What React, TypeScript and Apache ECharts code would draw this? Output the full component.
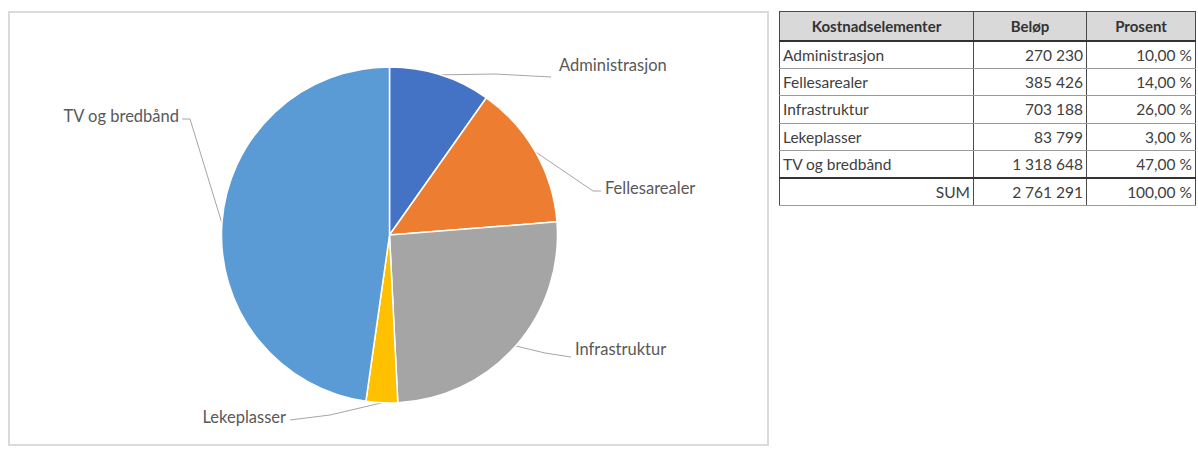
import React, { useEffect, useRef } from "react";
import * as echarts from "echarts";

// ---- data ----
const categories = ["Administrasjon", "Fellesarealer", "Infrastruktur", "Lekeplasser", "TV og bredbånd"];
const amounts = [270230, 385426, 703188, 83799, 1318648];
const percents = [10, 14, 26, 3, 47];
const sumLabel = "SUM";
const sumAmount = 2761291;
const sumPercent = 100;
const tableHeaders = ["Kostnadselementer", "Beløp", "Prosent"];
const colors = ["#4472C4", "#ED7D31", "#A5A5A5", "#FFC000", "#5B9BD5"];

// ---- layout (positions / styles only) ----
const PIE_CX = 389.5;
const PIE_CY = 235;
const PIE_R = 168;
const labelPlacement = [
  { x: 559, y: 65, align: "left", bend: [495, 74], end: [551, 77] },
  { x: 605, y: 188, align: "left", bend: [593, 191], end: [601, 191] },
  { x: 575, y: 349, align: "left", bend: [545, 353], end: [571, 357] },
  { x: 286, y: 417, align: "right", bend: [330, 415], end: [290, 420] },
  { x: 179, y: 116, align: "right", bend: [190, 119], end: [182, 119] },
];

const fmtAmount = (v: number) => String(v).replace(/\B(?=(\d{3})+(?!\d))/g, " ");
const fmtPct = (v: number) => v.toFixed(2).replace(".", ",") + " %";

function midAngles(vals: number[]) {
  const total = vals.reduce((a, b) => a + b, 0);
  let acc = 0;
  return vals.map((v) => {
    const m = ((acc + v / 2) / total) * Math.PI * 2;
    acc += v;
    return m;
  });
}

const cellBase: React.CSSProperties = {
  padding: "0 3px",
  borderLeft: "1px solid #4a4a4a",
  borderRight: "1px solid #4a4a4a",
  borderBottom: "1px solid #9a9a9a",
  whiteSpace: "nowrap",
  overflow: "hidden",
};

function Table() {
  const font = "Lato, 'Open Sans', sans-serif";
  const rowH = 27.5;
  return (
    <table
      style={{
        position: "absolute",
        left: 779,
        top: 11,
        borderCollapse: "collapse",
        tableLayout: "fixed",
        fontFamily: font,
        fontSize: 15.5,
        color: "#404040",
        border: "1.5px solid #4a4a4a",
        background: "#fff",
      }}
    >
      <colgroup>
        <col style={{ width: 194 }} />
        <col style={{ width: 113 }} />
        <col style={{ width: 109 }} />
      </colgroup>
      <thead>
        <tr style={{ height: 29, background: "#d9d9d9" }}>
          {tableHeaders.map((h) => (
            <th
              key={h}
              style={{ ...cellBase, textAlign: "center", fontWeight: "bold", fontSize: 15, color: "#333", borderBottom: "2px solid #333" }}
            >
              {h}
            </th>
          ))}
        </tr>
      </thead>
      <tbody>
        {categories.map((c, i) => (
          <tr key={c} style={{ height: rowH }}>
            <td style={{ ...cellBase, textAlign: "left" }}>{c}</td>
            <td style={{ ...cellBase, textAlign: "right" }}>{fmtAmount(amounts[i])}</td>
            <td style={{ ...cellBase, textAlign: "right" }}>{fmtPct(percents[i])}</td>
          </tr>
        ))}
        <tr style={{ height: rowH }}>
          <td style={{ ...cellBase, textAlign: "right", borderTop: "2px solid #333" }}>{sumLabel}</td>
          <td style={{ ...cellBase, textAlign: "right", borderTop: "2px solid #333" }}>{fmtAmount(sumAmount)}</td>
          <td style={{ ...cellBase, textAlign: "right", borderTop: "2px solid #333" }}>{fmtPct(sumPercent)}</td>
        </tr>
      </tbody>
    </table>
  );
}

export default function App() {
  const ref = useRef<HTMLDivElement>(null);

  useEffect(() => {
    if (!ref.current) return;
    const chart = echarts.init(ref.current, undefined, { renderer: "svg" });
    const mids = midAngles(amounts);
    chart.setOption({
      animation: false,
      backgroundColor: "#ffffff",
      graphic: [
        {
          type: "rect",
          shape: { x: 9, y: 12, width: 759, height: 433 },
          style: { fill: "none", stroke: "#dadada", lineWidth: 2 },
          silent: true,
          z: -10,
        },
      ],
      series: [
        {
          type: "pie",
          center: [PIE_CX, PIE_CY],
          radius: PIE_R,
          startAngle: 90,
          clockwise: true,
          silent: true,
          avoidLabelOverlap: false,
          data: categories.map((c, i) => ({ name: c, value: amounts[i], itemStyle: { color: colors[i] } })),
          itemStyle: { borderColor: "#ffffff", borderWidth: 1.5 },
          label: {
            show: true,
            position: "outside",
            formatter: "{b}",
            color: "#595959",
            fontFamily: "Lato, 'Open Sans', sans-serif",
            fontSize: 16.5,
          },
          labelLine: { show: true, lineStyle: { color: "#a6a6a6", width: 1 } },
          labelLayout: (params: any) => {
            const i = params.dataIndex;
            const L = labelPlacement[i];
            const a = mids[i];
            const p0 = [PIE_CX + PIE_R * Math.sin(a), PIE_CY - PIE_R * Math.cos(a)];
            return {
              x: L.x,
              y: L.y,
              align: L.align,
              verticalAlign: "middle",
              labelLinePoints: [p0, L.bend, L.end],
            };
          },
          emphasis: { disabled: true },
        },
      ],
    });
    return () => chart.dispose();
  }, []);

  return (
    <div style={{ position: "fixed", left: 0, top: 0, width: 1198, height: 454, background: "#fff" }}>
      <div ref={ref} style={{ position: "absolute", left: 0, top: 0, width: 1198, height: 454 }} />
      <Table />
    </div>
  );
}
